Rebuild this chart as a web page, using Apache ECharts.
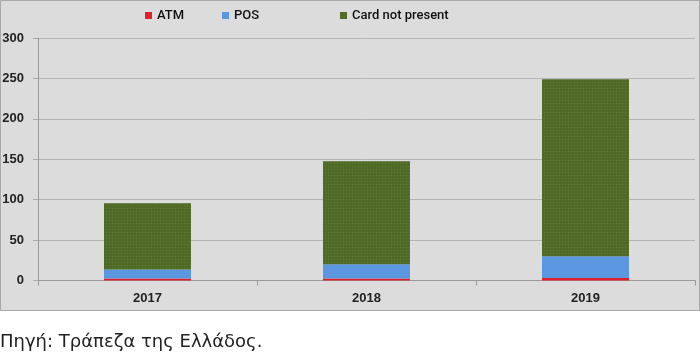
<!DOCTYPE html>
<html><head><meta charset="utf-8">
<script src="https://cdn.jsdelivr.net/npm/echarts@6/dist/echarts.min.js"></script>
<style>html,body{margin:0;padding:0;background:#fff}#c{width:700px;height:357px}</style>
</head><body><div id="c"></div>
<script>
var categories = ['2017', '2018', '2019'];
var atm = [2.5, 2.5, 3];
var pos = [11, 17.5, 27];
var cnp = [82, 127.5, 219];
var yTicks = [0, 50, 100, 150, 200, 250, 300];
var sourceText = 'Πηγή: Τράπεζα της Ελλάδος.';

var chart = echarts.init(document.getElementById('c'), null, {renderer: 'canvas'});
var legendText = {fontFamily: 'Roboto', fontSize: 13, fontWeight: 500, color: '#111'};
function lg(name, left) {
  return {data: [name], left: left, top: 9, padding: 0, itemWidth: 7, itemHeight: 7, itemGap: 3,
    icon: 'rect', textStyle: legendText, selectedMode: false};
}
chart.setOption({
  animation: false,
  backgroundColor: '#fff',
  graphic: [
    {type: 'rect', z: -10, shape: {x: 0.5, y: 0.5, width: 699, height: 310},
      style: {fill: '#dcdcdc', stroke: '#a8a8a8', lineWidth: 1}},
    {type: 'text', left: 0, top: 333, style: {text: sourceText, font: '18px "DejaVu Sans"', fill: '#222'}}
  ],
  legend: [lg('ATM', 145), lg('POS', 222), lg('Card not present', 340)],
  grid: {left: 38, right: 5, top: 38, bottom: 76.5, outerBoundsMode: 'none'},
  xAxis: {
    type: 'category', data: categories,
    axisLine: {lineStyle: {color: '#999'}},
    axisTick: {show: true, length: 5, lineStyle: {color: '#999'}},
    axisLabel: {fontFamily: 'Liberation Sans', fontSize: 13, fontWeight: 'bold', color: '#222', margin: 11}
  },
  yAxis: {
    type: 'value', min: 0, max: 300, interval: 50,
    axisLine: {show: true, lineStyle: {color: '#999'}},
    axisTick: {show: true, length: 5, lineStyle: {color: '#aaa'}},
    splitLine: {lineStyle: {color: '#b4b4b4'}},
    axisLabel: {fontFamily: 'Liberation Sans', fontSize: 13, fontWeight: 'bold', color: '#222', margin: 14,
      formatter: function (v) { return yTicks.indexOf(v) >= 0 ? String(v) : ''; }}
  },
  series: [
    {name: 'ATM', type: 'bar', stack: 'a', barWidth: 87, data: atm, itemStyle: {color: '#e0202f'}},
    {name: 'POS', type: 'bar', stack: 'a', barWidth: 87, data: pos, itemStyle: {color: '#5b97e0'}},
    {name: 'Card not present', type: 'bar', stack: 'a', barWidth: 87, data: cnp,
      itemStyle: {color: '#4e6a26', decal: {symbol: 'circle', symbolSize: 0.5, dashArrayX: [3, 0], dashArrayY: [3, 0], color: 'rgba(130,160,90,0.3)'}}}
  ]
});
</script></body></html>
